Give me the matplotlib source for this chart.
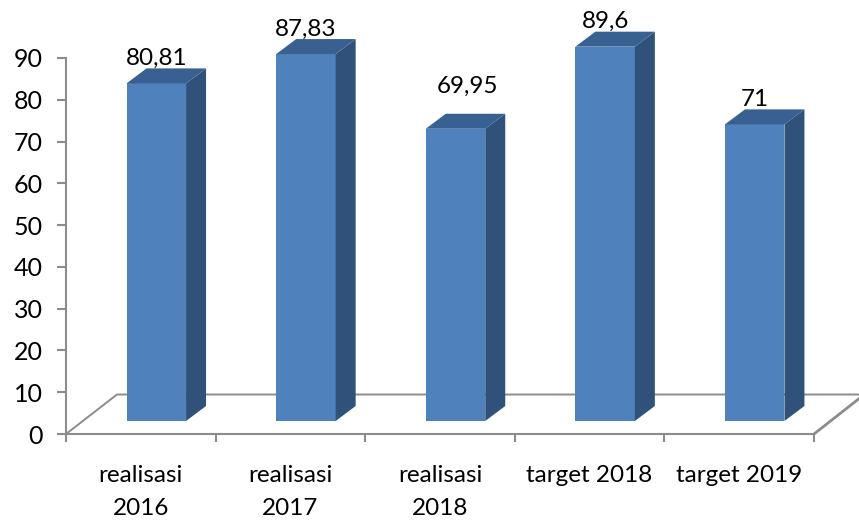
import matplotlib
matplotlib.use('Agg')
import matplotlib.pyplot as plt

categories = ['realisasi\n2016', 'realisasi\n2017', 'realisasi\n2018', 'target 2018', 'target 2019']
values = [80.81, 87.83, 69.95, 89.6, 71]
value_labels = ['80,81', '87,83', '69,95', '89,6', '71']
y_ticks = [0, 10, 20, 30, 40, 50, 60, 70, 80, 90]

W, H = 859, 523
FRONT = '#4F81BD'
TOP = '#386192'
SIDE = '#30527A'
GREY = '#8C8C8C'

plt.rcParams['font.family'] = ['Lato', 'DejaVu Sans']

fig = plt.figure(figsize=(W / 100, H / 100), dpi=100)
# axes box in pixels: x 66-814, y 58-434
ax = fig.add_axes([66 / W, (H - 434) / H, 748 / W, 376 / H])
ax.set_xlim(-0.5, 4.5)
ax.set_ylim(0, 90)

px_x = 5 / 748    # one pixel in x units
px_y = 90 / 376   # one pixel in y units
depth_x = 20 * px_x
depth_y = 15 * px_y
shift = 15.5 * px_x
base = 13 * px_y
bar_w = 59.5 * px_x

# floor
floor_x = 51 * px_x
floor_y = 39.5 * px_y
right_end = 4.5 + 45 * px_x
ax.plot([-0.5, -0.5 + floor_x, right_end], [0, floor_y, floor_y], color=GREY, lw=1.4, clip_on=False, zorder=1)
ax.plot([4.5, right_end], [0, floor_y - 1], color=GREY, lw=2, clip_on=False, zorder=1)

for i, v in enumerate(values):
    x0 = i + shift - bar_w / 2
    x1 = x0 + bar_w
    top = base + v
    ax.bar(i + shift, v, width=bar_w, bottom=base, color=FRONT, zorder=3, clip_on=False)
    ax.fill([x1, x1 + depth_x, x1 + depth_x, x1], [base, base + depth_y, top + depth_y, top],
            color=SIDE, lw=0, zorder=3, clip_on=False)
    ax.fill([x0, x0 + depth_x, x1 + depth_x, x1], [top, top + depth_y, top + depth_y, top],
            color=TOP, lw=0, zorder=3, clip_on=False)

# value labels, the third one sits further off its bar
for i, (v, lab) in enumerate(zip(values, value_labels)):
    dx, dy = (12, 42) if i == 2 else (0, 25)
    ax.annotate(lab, (i + shift, base + v), xytext=(dx * 0.72, dy * 0.72), textcoords='offset points',
                ha='center', va='center', fontsize=17.5, color='black', zorder=5, annotation_clip=False)

for s in ['top', 'right']:
    ax.spines[s].set_visible(False)
for s in ['left', 'bottom']:
    ax.spines[s].set_color(GREY)
    ax.spines[s].set_linewidth(1.5)

ax.set_yticks(y_ticks)
ax.tick_params(axis='y', length=6.5, width=1.5, color=GREY, labelsize=18, pad=10)
ax.set_xticks([-0.5, 0.5, 1.5, 2.5, 3.5, 4.5])
ax.set_xticklabels([])
ax.set_xticks(range(5), categories, minor=True)
ax.tick_params(axis='x', which='major', length=6, width=1.5, color=GREY)
ax.tick_params(axis='x', which='minor', length=0, labelsize=17.5, pad=22)
for t in ax.get_xticklabels(minor=True):
    t.set_linespacing(1.75)

fig.savefig('out.png', dpi=100)
